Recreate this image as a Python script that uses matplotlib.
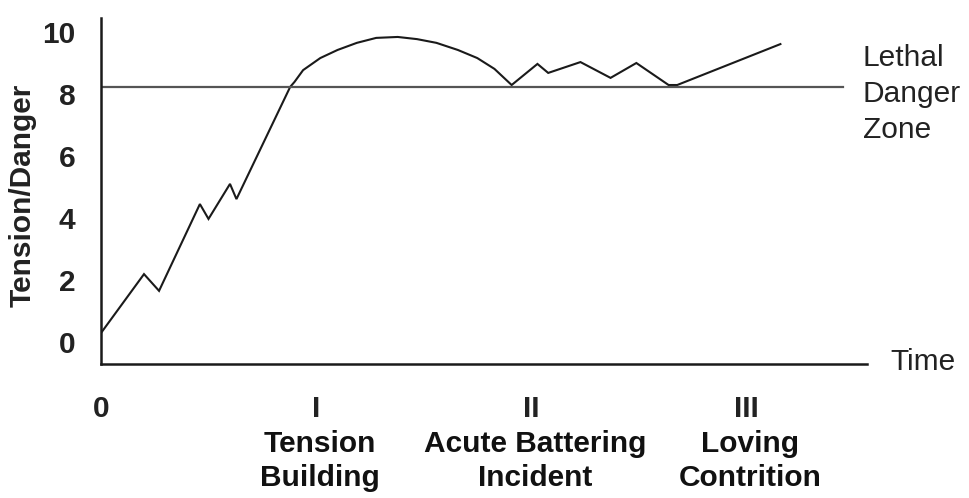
import matplotlib
matplotlib.use("Agg")
import matplotlib.pyplot as plt
from matplotlib.transforms import blended_transform_factory

plt.rcParams['font.family'] = ['Liberation Sans', 'DejaVu Sans']

# Curve (time units, tension/danger)
curve_x = [0.00, 0.20, 0.27, 0.46, 0.50, 0.60, 0.63, 0.88,
           0.90, 0.94, 1.02, 1.10, 1.19, 1.28, 1.38, 1.47, 1.56, 1.66, 1.75, 1.83, 1.91,
           2.03, 2.08, 2.23, 2.37, 2.49, 2.64, 2.68, 3.16]
curve_y = [0.29, 2.19, 1.65, 4.45, 3.97, 5.10, 4.61, 8.23,
           8.39, 8.77, 9.16, 9.42, 9.65, 9.81, 9.84, 9.77, 9.65, 9.42, 9.16, 8.81, 8.29,
           8.97, 8.68, 9.03, 8.52, 9.00, 8.29, 8.29, 9.61]

danger_level = 8.24
danger_x_end = 3.45

y_ticks = [0, 2, 4, 6, 8, 10]
x_ticks = [0, 1, 2, 3]
x_tick_labels = ["0", "I", "II", "III"]
phase_x = [1, 2, 3]
phase_labels = ["Tension\nBuilding", "Acute Battering\nIncident", "Loving\nContrition"]

FS = 21.5
W, H = 970, 498
fig = plt.figure(figsize=(W / 100, H / 100), dpi=100)
ax = fig.add_axes([101 / W, 1 - 364 / H, (867 - 101) / W, (364 - 18) / H])

ax.plot(curve_x, curve_y, color='#1a1a1a', lw=1.5, solid_joinstyle='miter')
ax.plot([0, danger_x_end], [danger_level, danger_level], color='#555555', lw=1.6)

ax.set_xlim(0, (867 - 101) / 215)
ax.set_ylim((342 - 364) / 31, (342 - 18) / 31)

for s in ['top', 'right']:
    ax.spines[s].set_visible(False)
for s in ['left', 'bottom']:
    ax.spines[s].set_linewidth(1.8)
    ax.spines[s].set_color('#1a1a1a')

ax.set_yticks(y_ticks)
ax.set_yticklabels([str(v) for v in y_ticks], fontsize=FS, fontweight='bold', color='#222222')
ax.set_xticks(x_ticks)
ax.set_xticklabels(x_tick_labels, fontsize=FS, fontweight='bold', color='#222222')
ax.tick_params(axis='y', length=0, pad=18.5)
ax.tick_params(axis='x', length=0, pad=22)

ax.set_ylabel("Tension/Danger", fontsize=FS, fontweight='bold', color='#222222')
ax.yaxis.set_label_coords(-(101 - 37) / (867 - 101), (364 - 195) / (364 - 18))

trans = blended_transform_factory(ax.transData, fig.transFigure)
for xv, lab in zip(phase_x, phase_labels):
    ax.text(xv + 0.02, 1 - 461 / H, lab, transform=trans, ha='center', va='center',
            fontsize=FS, fontweight='bold', color='#111111', linespacing=1.31)

fig.text(863 / W, 1 - 94 / H, "Lethal\nDanger\nZone", ha='left', va='center',
         fontsize=FS, color='#222222', linespacing=1.35)
fig.text(890 / W, 1 - 362 / H, "Time", ha='left', va='center', fontsize=FS, color='#222222')

fig.savefig("out.png", dpi=100)
